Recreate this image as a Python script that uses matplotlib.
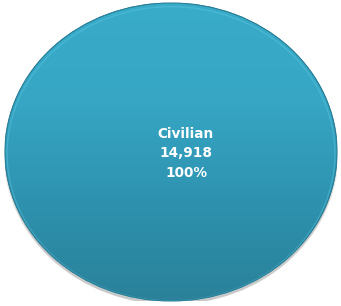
import numpy as np
import matplotlib.pyplot as plt
from matplotlib.colors import LinearSegmentedColormap
from matplotlib.patches import Ellipse

# data
labels = ['Civilian']
values = [14918]

fig = plt.figure(figsize=(3.41, 3.06), dpi=100)
ax = fig.add_axes([5 / 341, 5 / 306, 332 / 341, 298 / 306])

# soft shadow under the pie
for i, a in enumerate([0.05, 0.07, 0.1]):
    ax.add_patch(Ellipse((0.0, -0.015 - 0.004 * i), 2.0 + 0.01 * (2 - i), 2.0 + 0.01 * (2 - i),
                         facecolor='#000000', alpha=a, edgecolor='none', zorder=0))

wedges, _ = ax.pie(values, startangle=90, counterclock=False,
                   colors=['#32A0BE'],
                   wedgeprops=dict(edgecolor='#2A7E96', linewidth=0.8))
ax.set_aspect('auto')
ax.axis('off')

# vertical gradient fill clipped to the wedge
cmap = LinearSegmentedColormap.from_list('teal', ['#2A8199', '#2E92AF', '#36A6C4', '#39ACCA'])
grad = np.linspace(0, 1, 256).reshape(-1, 1)
img = ax.imshow(grad, extent=(-1, 1, -1, 1), origin='lower', cmap=cmap,
                aspect='auto', zorder=2)
img.set_clip_path(wedges[0])

# light rim at the top, darker outline
ax.add_patch(Ellipse((0, -0.012), 1.975, 1.975, facecolor='none',
                     edgecolor='#5CC6E0', linewidth=1.0, alpha=0.45, zorder=3))
ax.add_patch(Ellipse((0, 0), 2.0, 2.0, facecolor='none',
                     edgecolor='#2A7E96', linewidth=0.7, zorder=4))
ax.set_xlim(-1.0, 1.0)
ax.set_ylim(-1.0, 1.0)

total = sum(values)
for lab, v in zip(labels, values):
    txt = f'{lab}\n{v:,}\n{v / total:.0%}'
    ax.text(0.09, -0.01, txt, ha='center', va='center', color='white',
            fontsize=9.8, fontweight='bold', linespacing=1.5, zorder=5)

fig.savefig('out.png', dpi=100)
